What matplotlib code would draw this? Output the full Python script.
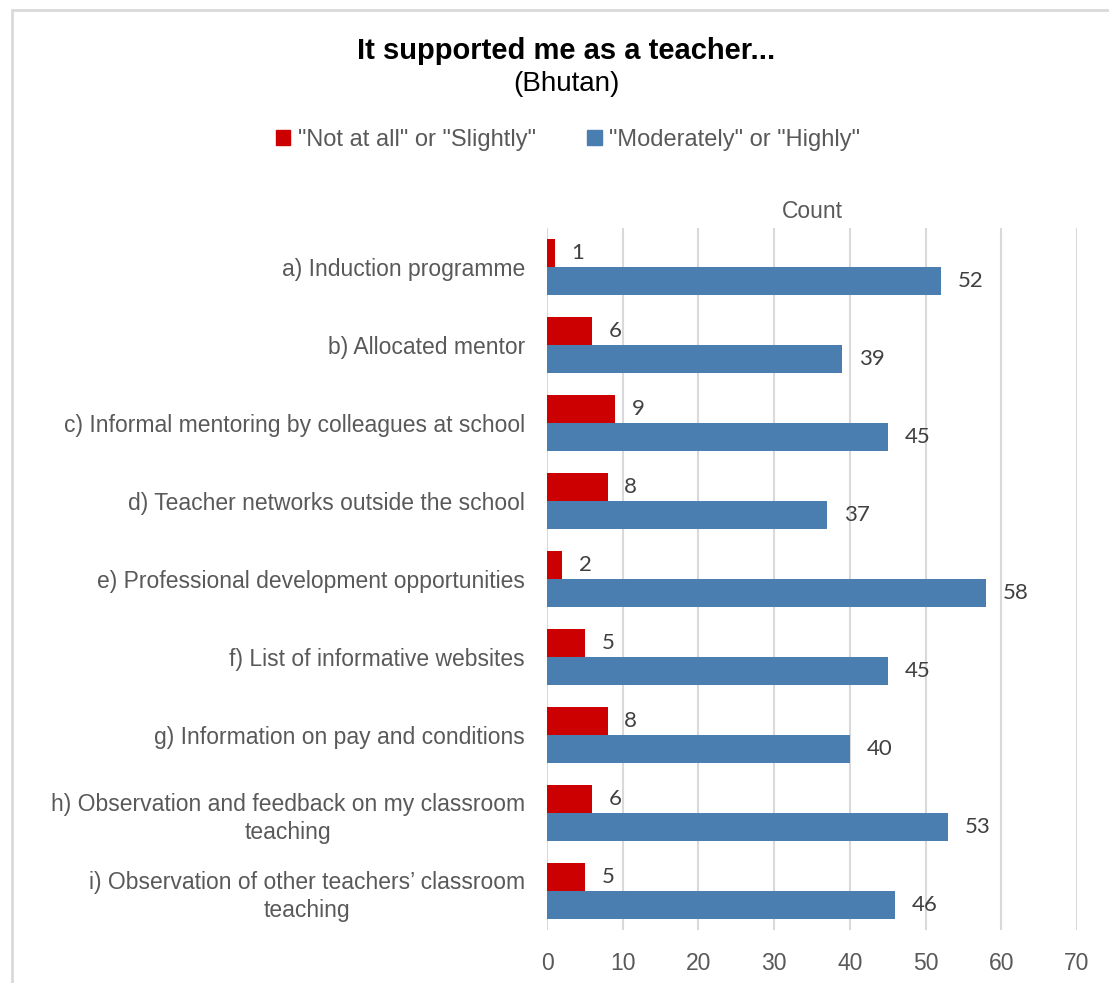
import matplotlib
matplotlib.use("Agg")
import matplotlib.pyplot as plt
from matplotlib.patches import Rectangle
import numpy as np

categories = [
    "a) Induction programme",
    "b) Allocated mentor",
    "c) Informal mentoring by colleagues at school",
    "d) Teacher networks outside the school",
    "e) Professional development opportunities",
    "f) List of informative websites",
    "g) Information on pay and conditions",
    "h) Observation and feedback on my classroom\nteaching",
    "i) Observation of other teachers\u2019 classroom\nteaching",
]
not_at_all = [1, 6, 9, 8, 2, 5, 8, 6, 5]
moderately = [52, 39, 45, 37, 58, 45, 40, 53, 46]
series_names = ['"Not at all" or "Slightly"', '"Moderately" or "Highly"']
x_ticks = [0, 10, 20, 30, 40, 50, 60, 70]

RED = "#CC0000"
BLUE = "#4A7EB0"
TEXT = "#595959"
GRID = "#D9D9D9"

plt.rcParams["font.family"] = ["Liberation Sans", "DejaVu Sans"]

W, H = 1109, 983
fig = plt.figure(figsize=(W / 100, H / 100), dpi=100)

# outer chart frame
fig.patches.append(Rectangle((12 / W, -0.1), 1.2, 1 - 10 / H + 0.1,
                             transform=fig.transFigure, fill=False,
                             edgecolor="#D9D9D9", linewidth=2.0))

ax = fig.add_axes([547 / W, 1 - 930 / H, (1077 - 547) / W, (930 - 228) / H])

y = np.arange(len(categories))
h = 0.36
ax.barh(y - h / 2, not_at_all, height=h, color=RED, label=series_names[0])
ax.barh(y + h / 2, moderately, height=h, color=BLUE, label=series_names[1])

for yi, v in zip(y, not_at_all):
    ax.annotate(str(v), (v, yi - h / 2), xytext=(12, 0), textcoords="offset points",
                ha="left", va="center", fontsize=16, color="#404040", family="Lato")
for yi, v in zip(y, moderately):
    ax.annotate(str(v), (v, yi + h / 2), xytext=(12, 0), textcoords="offset points",
                ha="left", va="center", fontsize=16, color="#404040", family="Lato")

ax.set_xlim(0, 70)
ax.set_ylim(len(categories) - 0.5, -0.5)
ax.set_xticks(x_ticks)
ax.set_yticks(y)
ax.set_yticklabels(categories, multialignment="center", linespacing=1.3)
ax.tick_params(axis="both", length=0, colors=TEXT)
ax.tick_params(axis="x", labelsize=16.5, pad=16)
ax.tick_params(axis="y", labelsize=16.5, pad=16)
ax.xaxis.grid(True, color=GRID, linewidth=1.5)
ax.set_axisbelow(True)
for s in ax.spines.values():
    s.set_visible(False)

ax.set_xlabel("Count", fontsize=16.5, color=TEXT, labelpad=7)
ax.xaxis.set_label_position("top")

cx = 566 / W
fig.text(cx, 1 - 51 / H, "It supported me as a teacher...", ha="center", va="center",
         fontsize=21, fontweight="bold", color="black")
fig.text(cx, 1 - 84 / H, "(Bhutan)", ha="center", va="center", fontsize=20, color="black")

handles = [Rectangle((0, 0), 1, 1, color=RED), Rectangle((0, 0), 1, 1, color=BLUE)]
leg = fig.legend(handles, series_names, loc="center", bbox_to_anchor=(cx + 2 / W, 1 - 140 / H),
                 ncol=2, frameon=False, fontsize=17, handlelength=0.6, handleheight=0.6,
                 handletextpad=0.3, columnspacing=2.2)
for t in leg.get_texts():
    t.set_color(TEXT)

fig.savefig("out.png", dpi=100)
